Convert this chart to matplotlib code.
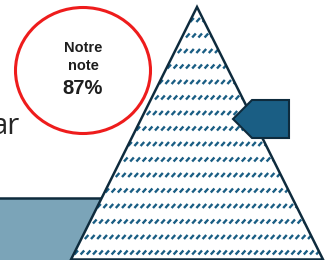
import matplotlib
matplotlib.use("Agg")
import matplotlib.pyplot as plt
from matplotlib.patches import Polygon, Ellipse, Rectangle
from matplotlib.collections import LineCollection
import numpy as np

# content
score_label = ["Notre", "note"]
score_value = 87
side_text = "ar"

# shapes (pixel space, y downwards)
triangle_pts = [(197, 7), (71, 259.5), (323, 259.5)]
arrow_pts = [(233, 119), (252, 100), (289, 100), (289, 138), (252, 138)]

W, H = 327, 260
fig = plt.figure(figsize=(W / 100, H / 100), dpi=100)
ax = fig.add_axes([0, 0, 1, 1])
ax.set_xlim(0, W)
ax.set_ylim(H, 0)
ax.axis("off")

navy = "#0e2b3d"
blue = "#1a5e84"

# bottom-left band
ax.add_patch(Rectangle((-5, 198), 200, 70, facecolor="#7ba4b8", edgecolor="none", zorder=1))
ax.plot([-5, 200], [198, 198], color=navy, lw=1.8, zorder=1.5)

# triangle
tri = Polygon(triangle_pts, closed=True, facecolor="white", edgecolor="none", zorder=2)
ax.add_patch(tri)
segs = []
rows = np.arange(20, 262, 15.5)
for i, yr in enumerate(rows):
    off = (i % 2) * 2.0
    for xs in np.arange(60 + off, 330, 6.2):
        segs.append([(xs, yr + 2.0), (xs + 3.6, yr - 2.0)])
lc = LineCollection(segs, colors=blue, linewidths=1.7, zorder=3, capstyle="butt")
ax.add_collection(lc)
lc.set_clip_path(tri)
ax.add_patch(Polygon(triangle_pts, closed=True, facecolor="none", edgecolor=navy, lw=1.8, zorder=4, joinstyle="miter"))

# arrow marker
ax.add_patch(Polygon(arrow_pts, closed=True, facecolor=blue, edgecolor=navy, lw=1.5, zorder=5))

# score circle
ax.add_patch(Ellipse((83, 70.5), 135, 126, facecolor="white", edgecolor="#ee1c1c", lw=2.2, zorder=5))
ax.text(83, 47.5, score_label[0], ha="center", va="center", fontsize=10.5, fontweight="bold",
        family="Liberation Sans", color="#1e1e1e", zorder=6)
ax.text(83, 65.5, score_label[1], ha="center", va="center", fontsize=10.5, fontweight="bold",
        family="Liberation Sans", color="#1e1e1e", zorder=6)
ax.text(83, 88, f"{score_value}%", ha="center", va="center", fontsize=14.5, fontweight="bold",
        family="Liberation Sans", color="#1e1e1e", zorder=6)

# partial side text
ax.text(19.5, 134, side_text, ha="right", va="baseline", fontsize=21, family="Open Sans",
        color="#262626", zorder=6)

fig.savefig("out.png", dpi=100)
